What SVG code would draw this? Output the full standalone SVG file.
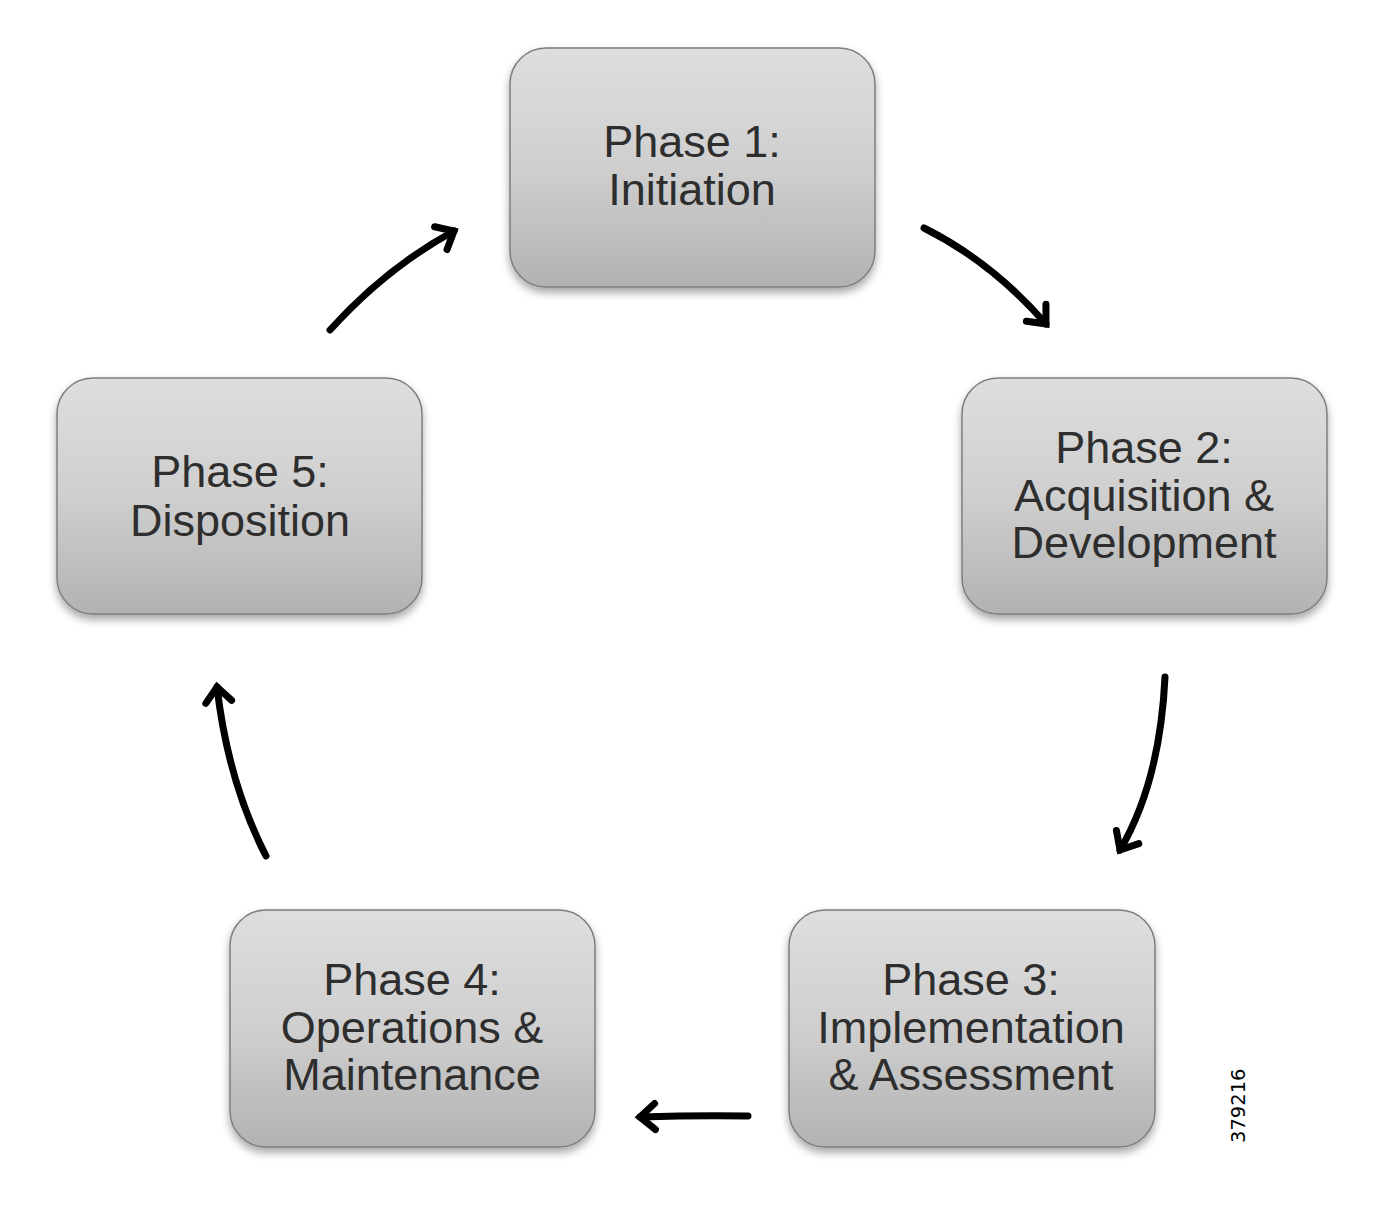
<svg xmlns="http://www.w3.org/2000/svg" width="1380" height="1221" viewBox="0 0 1380 1221">
<defs>
<linearGradient id="g" x1="0" y1="0" x2="0" y2="1">
<stop offset="0" stop-color="#dedede"/>
<stop offset="0.5" stop-color="#cfcfcf"/>
<stop offset="1" stop-color="#b2b2b2"/>
</linearGradient>
<filter id="sh" x="-10%" y="-10%" width="120%" height="125%">
<feDropShadow dx="0" dy="5" stdDeviation="4" flood-color="#000" flood-opacity="0.35"/>
</filter>
<marker id="ah" markerUnits="userSpaceOnUse" markerWidth="40" markerHeight="40" refX="0" refY="0" viewBox="-20 -20 40 40" orient="auto">
<path d="M-15,-13 L0,0 L-15,13" fill="none" stroke="#000" stroke-width="7" stroke-linecap="round" stroke-linejoin="miter"/>
</marker>
<style>
.box{fill:url(#g);stroke:#7e7e7e;stroke-width:1.5;filter:url(#sh)}
.t{font-family:"Liberation Sans",Arial,sans-serif;font-size:45px;fill:#2e2e2e;text-anchor:middle}
.c{fill:none;stroke:#000;stroke-width:7;stroke-linecap:round;marker-end:url(#ah)}
</style>
</defs>
<rect width="1380" height="1221" fill="#fff"/>
<g id="phase1">
<rect class="box" x="510" y="48" width="365" height="239" rx="36"/>
<text class="t" x="692" y="157">Phase 1:</text>
<text class="t" x="692" y="205">Initiation</text>
</g>
<g id="phase2">
<rect class="box" x="962" y="378" width="365" height="236" rx="36"/>
<text class="t" x="1144" y="463">Phase 2:</text>
<text class="t" x="1144" y="511">Acquisition &amp;</text>
<text class="t" x="1144" y="558">Development</text>
</g>
<g id="phase3">
<rect class="box" x="789" y="910" width="366" height="237" rx="36"/>
<text class="t" x="971" y="995">Phase 3:</text>
<text class="t" x="971" y="1043">Implementation</text>
<text class="t" x="971" y="1090">&amp; Assessment</text>
</g>
<g id="phase4">
<rect class="box" x="230" y="910" width="365" height="237" rx="36"/>
<text class="t" x="412" y="995">Phase 4:</text>
<text class="t" x="412" y="1043">Operations &amp;</text>
<text class="t" x="412" y="1090">Maintenance</text>
</g>
<g id="phase5">
<rect class="box" x="57" y="378" width="365" height="236" rx="36"/>
<text class="t" x="240" y="487">Phase 5:</text>
<text class="t" x="240" y="536">Disposition</text>
</g>
<g id="connectors">
<path class="c" d="M924,228 Q992,262 1046,324"/>
<path class="c" d="M1165,677 Q1160,782 1120,850"/>
<path class="c" d="M748,1116 Q700,1115 640,1117"/>
<path class="c" d="M266,856 Q228,782 217,687"/>
<path class="c" d="M330,330 Q386,268 454,231"/>
</g>
<text x="1245" y="1143" transform="rotate(-90 1245 1143)" font-family="'DejaVu Sans',sans-serif" font-size="19.5" fill="#000">379216</text>
</svg>
